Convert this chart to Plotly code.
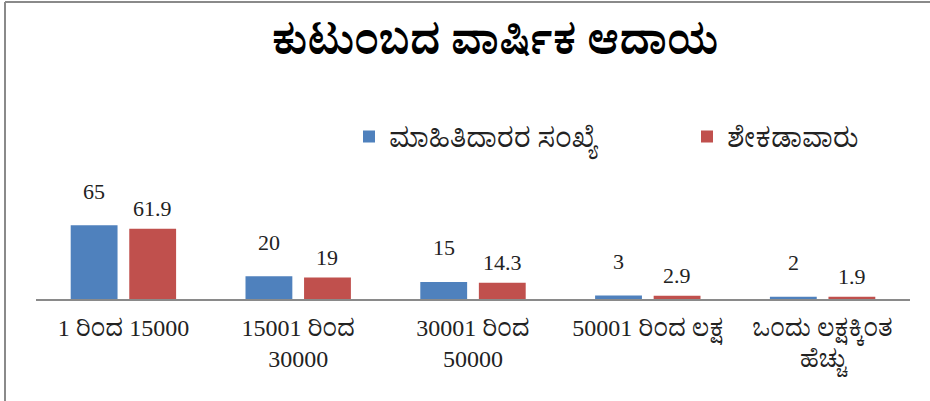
import plotly.graph_objects as go

categories = ["1 ರಿಂದ 15000", "15001 ರಿಂದ<br>30000", "30001 ರಿಂದ<br>50000",
              "50001 ರಿಂದ ಲಕ್ಷ", "ಒಂದು ಲಕ್ಷಕ್ಕಿಂತ<br>ಹೆಚ್ಚು"]
respondents = [65, 20, 15, 3, 2]
percentage = [61.9, 19, 14.3, 2.9, 1.9]
series_names = ["ಮಾಹಿತಿದಾರರ ಸಂಖ್ಯೆ", "ಶೇಕಡಾವಾರು"]
title_text = "ಕುಟುಂಬದ ವಾರ್ಷಿಕ ಆದಾಯ"

W, H = 930, 401
X0, X1 = 36, 910        # plot area left/right (px)
YT, YB = 110, 299       # plot area top/bottom (px)
YMAX = (YB - YT) / 1.135

KFONT = "Liberation Serif, Noto Serif Kannada, Noto Sans Kannada, Tunga, Lohit Kannada, serif"
BLUE = "#4F81BD"
RED = "#C0504D"
GRAY = "#8a8a8a"


def fx(p):
    return p / W


def fy(p):
    return (H - p) / H


fig = go.Figure()
fig.add_trace(go.Bar(x=categories, y=respondents, name=series_names[0],
                     marker=dict(color=BLUE, line=dict(width=0)), legend="legend"))
fig.add_trace(go.Bar(x=categories, y=percentage, name=series_names[1],
                     marker=dict(color=RED, line=dict(width=0)), legend="legend2"))

annotations = []
for vals, xs, ys in ((respondents, -29, 34), (percentage, 29, 20)):
    for c, v in zip(categories, vals):
        annotations.append(dict(x=c, y=v, xref="x", yref="y", text=str(v),
                                showarrow=False, xshift=xs, yshift=ys,
                                font=dict(family=KFONT, size=22, color="#222")))

shapes = [
    dict(type="line", xref="paper", yref="paper", x0=fx(5), x1=fx(5),
         y0=fy(2), y1=fy(405), line=dict(color=GRAY, width=2)),
    dict(type="line", xref="paper", yref="paper", x0=fx(5), x1=fx(935),
         y0=fy(2), y1=fy(2), line=dict(color=GRAY, width=2)),
]

legend_common = dict(orientation="h", yanchor="middle", xanchor="left",
                     font=dict(family=KFONT, size=27, color="#222"),
                     bgcolor="rgba(0,0,0,0)", itemwidth=30)

fig.update_layout(
    width=W, height=H,
    margin=dict(l=0, r=0, t=0, b=0, pad=0),
    paper_bgcolor="white", plot_bgcolor="white",
    barmode="group", bargap=0.33, bargroupgap=0.2,
    title=dict(text="<b>" + title_text + "</b>", x=495 / W, xref="container",
               xanchor="center", y=1 - 40 / H, yanchor="middle", yref="container",
               font=dict(family=KFONT, size=41, color="black")),
    legend=dict(x=fx(349), y=fy(137), **legend_common),
    legend2=dict(x=fx(687), y=fy(137), **legend_common),
    xaxis=dict(domain=[fx(X0), fx(X1)], showline=True, linecolor=GRAY, linewidth=2,
               showgrid=False, ticks="", ticklabelstandoff=6, automargin=False,
               tickfont=dict(family=KFONT, size=24, color="#222"),
               fixedrange=True, zeroline=False),
    yaxis=dict(domain=[fy(YB), fy(YT)], range=[0, YMAX], visible=False,
               showgrid=False, zeroline=False, automargin=False),
    annotations=annotations,
    shapes=shapes,
    showlegend=True,
)

fig.write_html("out.html", config={"displayModeBar": False},
               post_script="document.body.style.margin='0';document.body.style.overflow='hidden';")
